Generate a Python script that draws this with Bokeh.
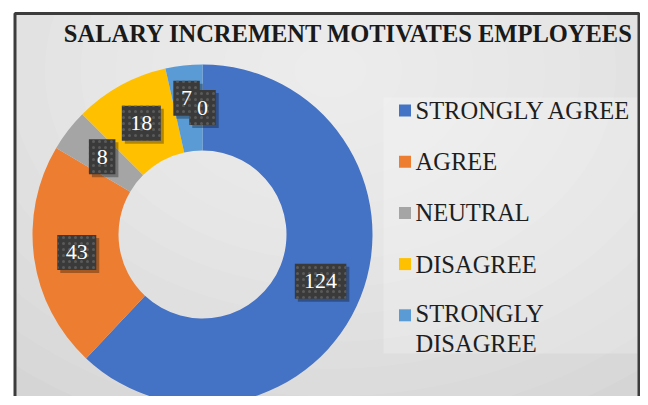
import numpy as np
from bokeh.plotting import figure
from bokeh.models import Range1d, ColumnDataSource
from bokeh.core.properties import value
from bokeh.embed import file_html
from bokeh.resources import INLINE

# ---------------- data ----------------
chart_title = "SALARY INCREMENT MOTIVATES EMPLOYEES"
categories = ["STRONGLY AGREE", "AGREE", "NEUTRAL", "DISAGREE", "STRONGLY DISAGREE", ""]
counts = [124, 43, 8, 18, 7, 0]
colors = ["#4472C4", "#ED7D31", "#A5A5A5", "#FFC000", "#5B9BD5", "#264478"]

# ---------------- layout (pixel-like coordinates, y up) ----------------
W, H = 640, 396
PAGE_H = 405


def Y(py):
    return PAGE_H - py


p = figure(width=W, height=H, output_backend="svg", toolbar_location=None,
           x_range=Range1d(0, W), y_range=Range1d(PAGE_H - H, PAGE_H),
           min_border=0, outline_line_color=None)
p.axis.visible = False
p.grid.visible = False
p.background_fill_color = "white"
p.border_fill_color = "white"

# chart area background with soft radial gradient
p.quad(left=[14], right=[639], top=[Y(13)], bottom=[Y(420)],
       fill_color="#d5d5d5", line_color=None)
for i in range(14):
    s = 1 - i / 14
    p.ellipse(x=[330], y=[Y(70)], width=[1000 * s], height=[760 * s],
              fill_color="white", fill_alpha=0.075, line_color=None)

# legend panel
p.quad(left=[383], right=[637], top=[Y(97)], bottom=[Y(353)],
       fill_color="white", fill_alpha=0.22, line_color=None)

# ---------------- doughnut ----------------
cx, cy = 202, Y(234)
r_out, r_in = 170, 84
vals = np.array(counts, dtype=float)
total = vals.sum()
cum = np.concatenate([[0], np.cumsum(vals)])
starts = np.pi / 2 - 2 * np.pi * cum[:-1] / total
ends = np.pi / 2 - 2 * np.pi * cum[1:] / total

mask = vals > 0
wsrc = ColumnDataSource(dict(start=starts[mask], end=ends[mask],
                             color=[c for c, m in zip(colors, mask) if m]))
p.annular_wedge(x=cx, y=cy, inner_radius=r_in, outer_radius=r_out,
                start_angle="start", end_angle="end", direction="clock",
                fill_color="color", line_color=None, source=wsrc)

# data labels
mids = (starts + ends) / 2
r_mid = (r_in + r_out) / 2
lx = cx + r_mid * np.cos(mids)
ly = cy + r_mid * np.sin(mids)
# small nudge to avoid overlap between tiny neighbouring slices (as the source does)
ly = ly.copy()
ly[4] += 10
lx[4] -= 2
texts = [str(c) for c in counts]
bw = [14 + 12.5 * len(t) for t in texts]
bh = [35] * len(texts)
lsrc = ColumnDataSource(dict(x=lx, y=ly, t=texts, w=bw, h=bh,
                             sx=lx + 3, sy=ly - 3))
p.rect(x="sx", y="sy", width="w", height="h", source=lsrc,
       fill_color="black", fill_alpha=0.3, line_color=None)
p.rect(x="x", y="y", width="w", height="h", source=lsrc,
       fill_color="#3a3a3a", line_color=None,
       hatch_pattern="dot", hatch_color="#5a5a5a", hatch_scale=6, hatch_weight=1)
p.text(x="x", y="y", text="t", source=lsrc, text_color="white",
       text_font=value("Liberation Serif"), text_font_size="22px",
       text_align="center", text_baseline="middle")

# ---------------- legend ----------------
leg_names = [c for c in categories if c]
leg_colors = [colors[i] for i, c in enumerate(categories) if c]
row0, row_gap = 110, 51.2
ys = [Y(row0 + i * row_gap) for i in range(len(leg_names))]
labels = [n.replace(" ", "\n") if len(n) > 15 else n for n in leg_names]
p.rect(x=[404.5] * len(ys), y=ys, width=12, height=12,
       fill_color=leg_colors, line_color=None)
tys = [y - (13.5 if "\n" in l else 0) for y, l in zip(ys, labels)]
p.text(x=[415] * len(ys), y=tys, text=labels, text_color="#1e1e1e",
       text_font=value("Liberation Serif"), text_font_size="24.5px",
       text_align="left", text_baseline="middle", text_line_height=1.1)

# ---------------- title ----------------
p.text(x=[348], y=[Y(33)], text=[chart_title], text_color="#1a1a1a",
       text_font=value("Liberation Serif"), text_font_size="24.5px",
       text_font_style="bold", text_align="center", text_baseline="middle")

# chart border
p.quad(left=[14.5], right=[638.5], top=[Y(13)], bottom=[Y(430)],
       fill_color=None, line_color="#3c3c3c", line_width=3)

open("out.html", "w").write(file_html(p, INLINE))
